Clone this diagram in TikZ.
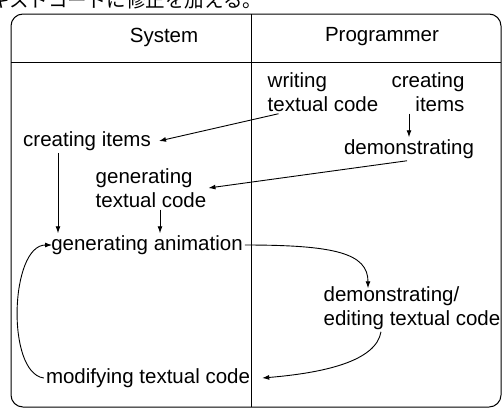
\documentclass[tikz,border=0pt]{standalone}
\usepackage{fontspec}
\setmainfont{Liberation Sans}
\newfontfamily\jpfont{Noto Sans CJK JP}
\usetikzlibrary{arrows.meta,calc}

\begin{document}
\begin{tikzpicture}[x=1pt,y=-1pt,
        lbl/.style={inner sep=2pt,font=\fontsize{20.5}{24}\selectfont},
        arr/.style={line width=0.9pt,-{Latex[length=7pt,width=5pt]}}]
        \useasboundingbox (0,0) rectangle (502,410);
        \node[anchor=base west,inner sep=0pt,font=\fontsize{19.5}{20}\selectfont\jpfont] (note) at (-10,7) {キストコードに修正を加える。};
        \draw[line width=1pt,rounded corners=12pt] (11,14) rectangle (501,407);
        \draw[line width=0.9pt] (11,62)--(501,62);
        \draw[line width=0.9pt] (251,14)--(251,407);
        \node[lbl] (sys) at (164,37) {System};
        \node[lbl] (prog) at (382,37) {Programmer};
        \node[lbl,align=left] (wt) at (323,92) {writing\\textual code};
        \node[lbl,align=right] (ci2) at (428,92) {creating\\items};
        \node[lbl] (demo) at (409,149) {demonstrating};
        \node[lbl] (ci) at (87,141) {creating items};
        \node[lbl,align=left] (gt) at (151,188) {generating\\textual code};
        \node[lbl] (ga) at (147,245) {generating animation};
        \node[lbl,align=left] (de) at (412,308) {demonstrating/\\editing textual code};
        \node[lbl] (mt) at (148,378) {modifying textual code};
        \draw[arr] ([xshift=13pt]wt.south west)--([xshift=6pt]ci.east);
        \draw[arr] (demo.north |- ci2.south)--(demo.north);
        \draw[arr] ([xshift=-2pt]demo.south)--(gt.east);
        \draw[arr] ([xshift=-29pt]ci.south)--([xshift=-29pt]ci.south |- ga.north);
        \draw[arr] ([xshift=9pt]gt.south)--([xshift=9pt]gt.south |- ga.north);
        \draw[arr] (ga.east) .. controls +(90,0) and +(0,-35) .. ([xshift=-44pt,yshift=-4pt]de.north);
        \draw[arr] ([xshift=-31pt]de.south) .. controls +(-5,30) and +(60,-5) .. ([xshift=10pt]mt.east);
        \draw[arr] (mt.west) .. controls +(-38,-5) and +(-42,0) .. ([xshift=3pt]ga.west);
    \end{tikzpicture}
\end{document}
